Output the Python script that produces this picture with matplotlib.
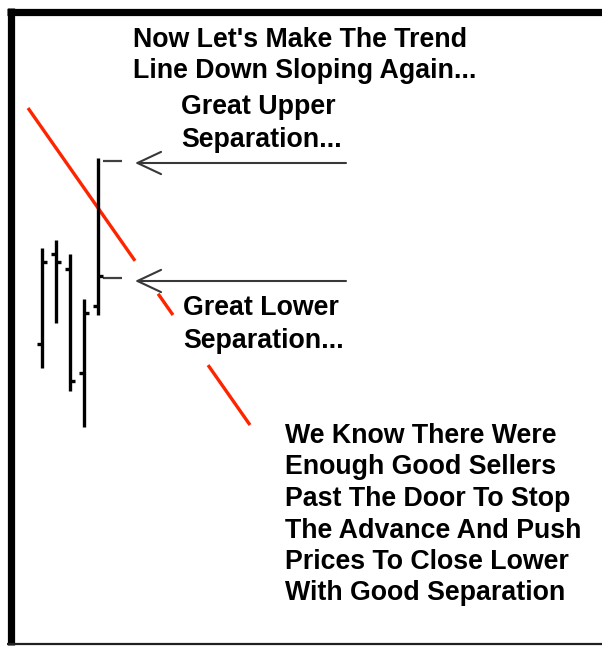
import matplotlib.pyplot as plt

# OHLC bars (price axis runs in screen units, larger = lower)
BAR_X = [42, 56, 70, 84, 98]
BAR_OPEN = [344, 254, 269, 373, 306]
BAR_HIGH = [248, 240, 254, 299, 158]
BAR_LOW = [368, 323, 391, 427, 315]
BAR_CLOSE = [262, 262, 381, 313, 276]

# trend line end points and the stretches of it that stay visible
TREND_X = [28, 250]
TREND_Y = [108, 425]
TREND_VISIBLE = [(0.0, 0.482), (0.586, 0.653), (0.811, 1.0)]

# separation marks on the last bar and the arrows pointing at them
SEP_LEVELS = [161, 278]
ARROW_Y = [163, 281]

TITLE_LINES = ["Now Let's Make The Trend", "Line Down Sloping Again..."]
UPPER_LINES = ["Great Upper", "Separation..."]
LOWER_LINES = ["Great Lower", "Separation..."]
NOTE_LINES = [
    "We Know There Were",
    "Enough Good Sellers",
    "Past The Door To Stop",
    "The Advance And Push",
    "Prices To Close Lower",
    "With Good Separation",
]

W, H = 602, 646
fig = plt.figure(figsize=(W / 100, H / 100), dpi=100)
ax = fig.add_axes([0, 0, 1, 1])
ax.set_xlim(0, W)
ax.set_ylim(H, 0)
ax.axis("off")

# frame: heavy left/top edge, thin bottom edge
ax.plot([10.5, 10.5], [8, 645], color="black", lw=5.2, solid_capstyle="butt")
ax.plot([7, W], [11.5, 11.5], color="black", lw=5.2, solid_capstyle="butt")
ax.plot([7, W], [643.5, 643.5], color="#202020", lw=1.6, solid_capstyle="butt")

# trend line
dx = TREND_X[1] - TREND_X[0]
dy = TREND_Y[1] - TREND_Y[0]
for t0, t1 in TREND_VISIBLE:
    ax.plot([TREND_X[0] + t0 * dx, TREND_X[0] + t1 * dx],
            [TREND_Y[0] + t0 * dy, TREND_Y[0] + t1 * dy],
            color="#ff2400", lw=2.4, solid_capstyle="butt", zorder=2)

# OHLC bars
for x, o, h, l, c in zip(BAR_X, BAR_OPEN, BAR_HIGH, BAR_LOW, BAR_CLOSE):
    ax.plot([x, x], [h, l], color="black", lw=2.4, solid_capstyle="butt", zorder=3)
    ax.plot([x - 5, x], [o, o], color="black", lw=2.4, solid_capstyle="butt", zorder=3)
    ax.plot([x, x + 5], [c, c], color="black", lw=2.4, solid_capstyle="butt", zorder=3)

for y in SEP_LEVELS:
    ax.plot([103, 122], [y, y], color="#404040", lw=1.6, solid_capstyle="butt")

for y in ARROW_Y:
    ax.annotate("", xy=(135, y), xytext=(346, y),
                arrowprops=dict(arrowstyle="->,head_length=1.7,head_width=0.8",
                                color="#383838", lw=1.5, shrinkA=0, shrinkB=0))

font = dict(family="Liberation Sans", fontweight="bold", fontsize=19.3,
            color="black", va="center", ha="left")


def block(x, y0, lines, step=31.5):
    for i, s in enumerate(lines):
        ax.text(x, y0 + i * step, s, **font)


block(133, 40, TITLE_LINES)
block(181, 107, UPPER_LINES, step=33)
block(183, 308, LOWER_LINES, step=33)
block(285, 436, NOTE_LINES)

fig.savefig("out.png", dpi=100)
